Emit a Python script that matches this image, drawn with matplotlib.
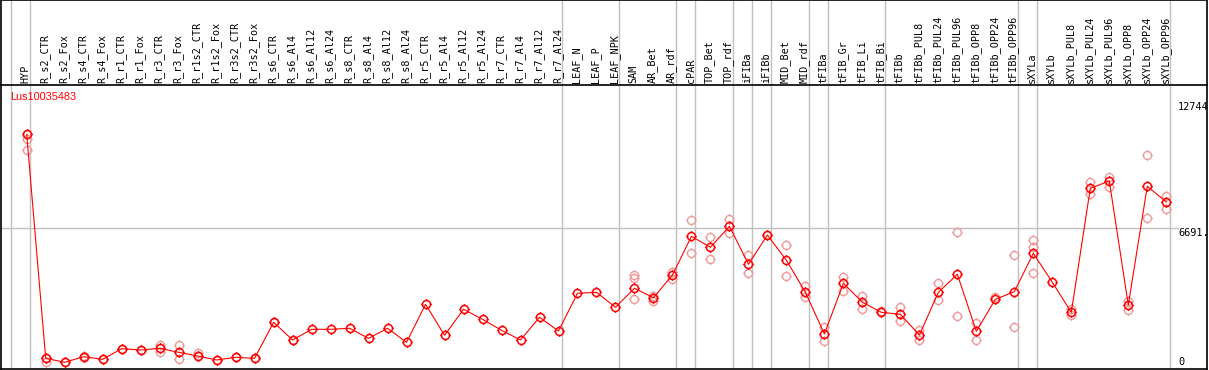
import matplotlib
matplotlib.use("Agg")
import matplotlib.pyplot as plt
from matplotlib.path import Path
import numpy as np

title = "Lus10035483"
categories = ["HYP", "R_s2_CTR", "R_s2_Fox", "R_s4_CTR", "R_s4_Fox", "R_r1_CTR", "R_r1_Fox",
              "R_r3_CTR", "R_r3_Fox", "R_r1s2_CTR", "R_r1s2_Fox", "R_r3s2_CTR", "R_r3s2_Fox",
              "R_s6_CTR", "R_s6_Al4", "R_s6_Al12", "R_s6_Al24", "R_s8_CTR", "R_s8_Al4",
              "R_s8_Al12", "R_s8_Al24", "R_r5_CTR", "R_r5_Al4", "R_r5_Al12", "R_r5_Al24",
              "R_r7_CTR", "R_r7_Al4", "R_r7_Al12", "R_r7_Al24", "LEAF_N", "LEAF_P", "LEAF_NPK",
              "SAM", "AR_Bet", "AR_rdf", "cPAR", "TOP_Bet", "TOP_rdf", "iFIBa", "iFIBb",
              "MID_Bet", "MID_rdf", "tFIBa", "tFIB_Gr", "tFIB_Li", "tFIB_Bi", "tFIBb",
              "tFIBb_PUL8", "tFIBb_PUL24", "tFIBb_PUL96", "tFIBb_OPP8", "tFIBb_OPP24",
              "tFIBb_OPP96", "sXYLa", "sXYLb", "sXYLb_PUL8", "sXYLb_PUL24", "sXYLb_PUL96",
              "sXYLb_OPP8", "sXYLb_OPP24", "sXYLb_OPP96"]
group_sizes = [1, 28, 3, 3, 1, 2, 1, 1, 2, 1, 3, 7, 1, 7]
mean_values = [11234, 373, 179, 451, 325, 839, 776, 858, 664, 485, 291, 422, 373,
               2119, 1261, 1779, 1779, 1828, 1343, 1828, 1149, 2992, 1488, 2749, 2264,
               1731, 1261, 2361, 1697, 3525, 3573, 2846,
               3767, 3312, 4412, 6289, 5755, 6774, 4931, 6352, 5125, 3573, 1552,
               4010, 3088, 2604, 2507, 1503, 3573, 4446, 1682, 3234, 3603,
               5464, 4058, 2604, 8616, 8970, 2958, 8713, 7952]
replicates = [[11006, 10458, 11234], [373, 210], [179], [451, 480], [325], [839], [776],
              [1004, 679], [1004, 354], [616, 485], [291], [422], [373],
              [2119], [1261], [], [], [], [], [], [], [], [], [], [], [], [], [], [],
              [], [], [],
              [4412, 4252, 3249], [3409, 3166], [4543, 4218], [7064, 5494], [6240, 5203],
              [7127, 6434], [5382, 4494], [6352], [5867, 4378], [3879, 3331], [1876, 1227],
              [4330, 3651], [3409, 2778], [2650], [2861, 2182], [1745, 1261], [4010, 3185],
              [6483, 2410], [2070, 1261], [3360], [5367, 1876],
              [6109, 5785, 4524], [], [2764, 2473], [8907, 8325], [9164, 8694],
              [3166, 2715], [10230, 7161], [8243, 7598]]
ytick_values = [12744, 6691, 0]
ytick_labels = ["12744", "6691.", "0"]

W, H = 1209, 370
fig = plt.figure(figsize=(W / 100, H / 100), dpi=100)

def fx(px):
    return px / W

def fy(py):
    return 1 - py / H

# pixel geometry
x0_px, step_px = 26.7, 18.993
left_px, right_px = 1, 1207
top_px, header_px, bottom_px = 0, 85, 369
y0_px, grid_px = 366, 228
per_px = 6691 / (y0_px - grid_px)

xmin = (left_px - x0_px) / step_px
xmax = (right_px - x0_px) / step_px
ymin = -(bottom_px - y0_px) * per_px
ymax = (y0_px - header_px) * per_px

ax = fig.add_axes([fx(left_px), fy(bottom_px), fx(right_px - left_px), (bottom_px - header_px) / H])
hx = fig.add_axes([fx(left_px), fy(header_px), fx(right_px - left_px), (header_px - top_px) / H])
for a in (ax, hx):
    a.set_xlim(xmin, xmax)
    a.set_xticks([])
    a.set_yticks([])
    for s in a.spines.values():
        s.set_color("black")
        s.set_linewidth(1.2)
ax.set_ylim(ymin, ymax)
hx.set_ylim(0, header_px - top_px)
ax.spines["top"].set_visible(False)

# group separators
bounds = np.concatenate([[0], np.cumsum(group_sizes)]) - 1
for b in bounds:
    for a in (ax, hx):
        a.axvline(b + 0.18, color="#c0c0c0", lw=1.0, zorder=0)

# horizontal grid line
x_grid_end = (1178 - x0_px) / step_px
ax.plot([xmin, x_grid_end], [ytick_values[1]] * 2, color="#c0c0c0", lw=1.0, zorder=0)

# marker: circle with small ticks
circ = Path.unit_circle()
verts = list(circ.vertices)
codes = list(circ.codes)
for d in [(1, 0), (-1, 0), (0, 1), (0, -1)]:
    verts += [(0.85 * d[0], 0.85 * d[1]), (1.28 * d[0], 1.28 * d[1])]
    codes += [Path.MOVETO, Path.LINETO]
mk = Path(verts, codes)
msize = 7.4

xs = np.arange(len(categories))
for i, reps in enumerate(replicates):
    if reps:
        ax.plot([i] * len(reps), reps, linestyle="none", marker=mk, markersize=msize,
                markerfacecolor="none", markeredgecolor="#ee9a9a", markeredgewidth=1.0, zorder=2)
ax.plot(xs, mean_values, color="red", lw=0.8, zorder=3)
ax.plot(xs, mean_values, linestyle="none", marker=mk, markersize=msize,
        markerfacecolor="none", markeredgecolor="red", markeredgewidth=1.1, zorder=4)

# header labels
for i, c in enumerate(categories):
    hx.text(i - 0.05, 2, c, rotation=90, ha="center", va="bottom",
            fontsize=7.3, family="DejaVu Sans Mono", color="black")

# title
fig.text(fx(10), fy(97), title, color="red", fontsize=7.8, family="Liberation Sans",
         ha="left", va="center")

# y tick labels (right side)
label_py = [107, 232.5, 362]
for lab, py in zip(ytick_labels, label_py):
    fig.text(fx(1178), fy(py), lab, fontsize=7.4, family="DejaVu Sans Mono",
             ha="left", va="center", color="black")

fig.savefig("out.png", dpi=100)
